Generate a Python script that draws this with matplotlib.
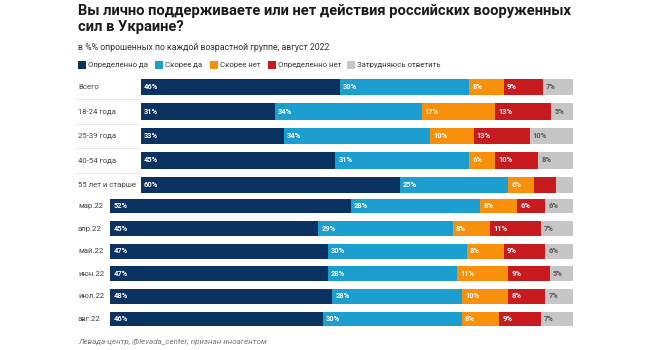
import numpy as np
import matplotlib
matplotlib.use('Agg')
import matplotlib.pyplot as plt
from matplotlib.patches import Rectangle

plt.rcParams['font.family'] = ['Roboto', 'DejaVu Sans']

series = ['Определенно да', 'Скорее да', 'Скорее нет', 'Определенно нет', 'Затрудняюсь ответить']
colors = ['#0b3362', '#1c9fd0', '#f8900c', '#c81b20', '#c6c6c6']
label_colors = ['white', 'white', 'white', 'white', '#555555']

# age groups, august 2022
age_groups = ['Всего', '18-24 года', '25-39 года', '40-54 года', '55 лет и старше']
age_def_yes = [46, 31, 33, 45, 60]
age_yes = [30, 34, 34, 31, 25]
age_no = [8, 17, 10, 6, 6]
age_def_no = [9, 13, 13, 10, 5]
age_unsure = [7, 5, 10, 8, 4]
age_hide = [(4, 3), (4, 4)]  # (row, series) without a value label

# monthly dynamics
months = ['мар.22', 'апр.22', 'май.22', 'июн.22', 'июл.22', 'авг.22']
mon_def_yes = [52, 45, 47, 47, 48, 46]
mon_yes = [28, 29, 30, 28, 28, 30]
mon_no = [8, 8, 8, 11, 10, 8]
mon_def_no = [6, 11, 9, 9, 8, 9]
mon_unsure = [6, 7, 6, 5, 7, 7]

W, H = 650, 350
fig = plt.figure(figsize=(W / 100, H / 100), dpi=100)


def px_axes(x0, y0, x1, y1):
    return fig.add_axes([x0 / W, 1 - y1 / H, (x1 - x0) / W, (y1 - y0) / H])


def draw_group(ax, cats, data, hide, bar_h):
    n = len(cats)
    y = np.arange(n)
    left = np.zeros(n)
    for s, vals in enumerate(data):
        vals = np.array(vals, dtype=float)
        ax.barh(y, vals, left=left, height=bar_h, color=colors[s], linewidth=0)
        for i in range(n):
            if (i, s) in hide:
                continue
            ax.text(left[i] + 0.7, y[i], f'{int(vals[i])}%', ha='left', va='center',
                    fontsize=5.4, fontweight='bold', color=label_colors[s])
        left += vals
    ax.set_xlim(0, 100)
    ax.set_ylim(n - 0.5, -0.5)
    ax.axis('off')


# top group
ax1 = px_axes(141, 74.75, 573, 197.25)
draw_group(ax1, age_groups,
           [age_def_yes, age_yes, age_no, age_def_no, age_unsure], age_hide, 0.66)
for i, c in enumerate(age_groups):
    yc = 87 + i * 24.5
    fig.text(78 / W, 1 - yc / H, c, ha='left', va='center', fontsize=5.6, color='#444444')
    if i < len(age_groups) - 1:
        fig.add_artist(plt.Line2D([75 / W, 140 / W], [1 - (yc + 12.25) / H] * 2,
                                  color='#e6e6e6', linewidth=0.6))

# bottom group
ax2 = px_axes(110, 194.7, 573, 330.3)
draw_group(ax2, months,
           [mon_def_yes, mon_yes, mon_no, mon_def_no, mon_unsure], [], 0.66)
for i, c in enumerate(months):
    yc = 206 + i * 22.6
    fig.text(78 / W, 1 - yc / H, c, ha='left', va='center', fontsize=5.6, color='#444444')

# title, subtitle
fig.text(78 / W, 1 - 4 / H,
         'Вы лично поддерживаете или нет действия российских вооруженных\nсил в Украине?',
         ha='left', va='top', fontsize=10.6, fontweight='bold', color='#1a1a1a', linespacing=1.2)
fig.text(78 / W, 1 - 48 / H, 'в %% опрошенных по каждой возрастной группе, август 2022',
         ha='left', va='center', fontsize=6.3, color='#333333')

# legend
leg_x = [78, 155, 210, 268, 347]
for s, name in enumerate(series):
    fig.add_artist(Rectangle((leg_x[s] / W, 1 - 69 / H), 8 / W, 8 / H,
                             transform=fig.transFigure, color=colors[s], linewidth=0))
    fig.text((leg_x[s] + 10) / W, 1 - 65 / H, name, ha='left', va='center',
             fontsize=5.6, color='#333333')

# source
fig.text(78 / W, 1 - 342 / H, 'Левада-центр, @levada_center, признан иноагентом',
         ha='left', va='center', fontsize=5.8, style='italic', color='#777777')

fig.savefig('out.png', dpi=100)
